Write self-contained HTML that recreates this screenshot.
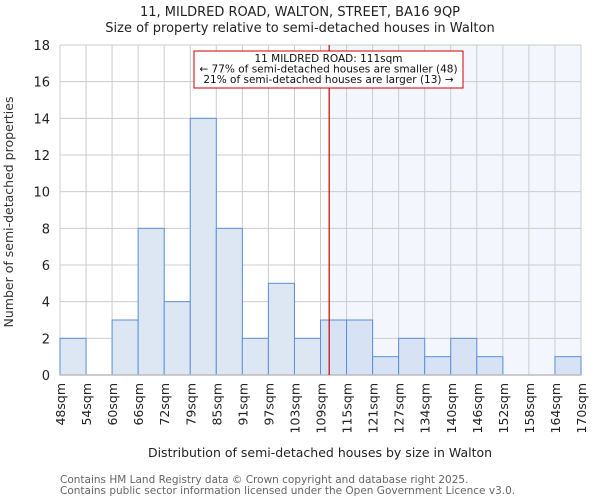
<!DOCTYPE html>
<html><head><meta charset="utf-8"><style>
body{margin:0;background:#fff;font-family:"DejaVu Sans","Liberation Sans",sans-serif;}
svg text{font-family:"DejaVu Sans","Liberation Sans",sans-serif;}
</style></head><body>
<svg id="c" width="600" height="500" xmlns="http://www.w3.org/2000/svg">
<text x="300" y="16" text-anchor="middle" font-size="13" fill="#222">11, MILDRED ROAD, WALTON, STREET, BA16 9QP</text>
<text x="300" y="32" text-anchor="middle" font-size="13" fill="#222">Size of property relative to semi-detached houses in Walton</text>
<g id="plot"></g>
<text transform="translate(13,212) rotate(-90)" text-anchor="middle" font-size="12.5" fill="#333">Number of semi-detached properties</text>
<text x="320" y="457" text-anchor="middle" font-size="12.5" fill="#222">Distribution of semi-detached houses by size in Walton</text>
<text x="60" y="483" font-size="10.5" fill="#666">Contains HM Land Registry data © Crown copyright and database right 2025.</text>
<text x="60" y="494" font-size="10.5" fill="#666">Contains public sector information licensed under the Open Government Licence v3.0.</text>
</svg>
<script>
const edgeLabels=["48sqm","54sqm","60sqm","66sqm","72sqm","79sqm","85sqm","91sqm","97sqm","103sqm","109sqm","115sqm","121sqm","127sqm","134sqm","140sqm","146sqm","152sqm","158sqm","164sqm","170sqm"];
const counts=[2,0,3,8,4,14,8,2,5,2,3,3,1,2,1,2,1,0,0,1];
const yTicks=[0,2,4,6,8,10,12,14,16,18];
const markerIndex=10.333;
const ns="http://www.w3.org/2000/svg";
const g=document.getElementById('plot');
const X0=60,X1=581,Y0=375,Y1=45,YMAX=18;
const n=counts.length;
const x=i=>X0+(X1-X0)*i/n;
const y=v=>Y0-(Y0-Y1)*v/YMAX;
function mk(t,a){const e=document.createElementNS(ns,t);for(const k in a)e.setAttribute(k,a[k]);g.appendChild(e);return e;}
let e;
e=mk('rect',{x:x(markerIndex),y:Y1,width:X1-x(markerIndex),height:Y0-Y1,fill:'#f3f6fd'});


yTicks.forEach(t=>{
 e=mk('line',{x1:X0,x2:X1,y1:y(t),y2:y(t),stroke:'#cccccc','stroke-width':1});
 
 
 e=mk('text',{x:X0-10,y:y(t)+5,'text-anchor':'end','font-size':13,fill:'#222'});
 e.textContent=t;
 
 
});
edgeLabels.forEach((l,i)=>{
 e=mk('line',{x1:x(i),x2:x(i),y1:Y1,y2:Y0,stroke:'#cccccc','stroke-width':1});
 
 
 e=mk('text',{transform:`translate(${x(i)+5},383) rotate(-90)`,'text-anchor':'end','font-size':12.5,fill:'#222'});
 e.textContent=l;
 
 
});
counts.forEach((c,i)=>{
 if(c<=0)return;
 e=mk('rect',{x:x(i),y:y(c),width:x(i+1)-x(i),height:Y0-y(c),fill:i>=markerIndex-0.5?'#d7e2f4':'#dde7f4',stroke:'#5b8fd8','stroke-width':1});
 
 
});
e=mk('line',{x1:X0,x2:X1,y1:Y0,y2:Y0,stroke:'#bbbbbb','stroke-width':1.5});


e=mk('line',{x1:x(markerIndex),x2:x(markerIndex),y1:Y1,y2:Y0,stroke:'#cc0000','stroke-width':1.2});


e=mk('rect',{x:194,y:51,width:269,height:37,fill:'#fff',stroke:'#cc0000','stroke-width':1});


["11 MILDRED ROAD: 111sqm","← 77% of semi-detached houses are smaller (48)","21% of semi-detached houses are larger (13) →"].forEach((s,i)=>{
 e=mk('text',{x:328.5,y:62+i*10.5,'text-anchor':'middle','font-size':10.5,fill:'#111'});
 e.textContent=s;
 
 
});
</script>
</body></html>
